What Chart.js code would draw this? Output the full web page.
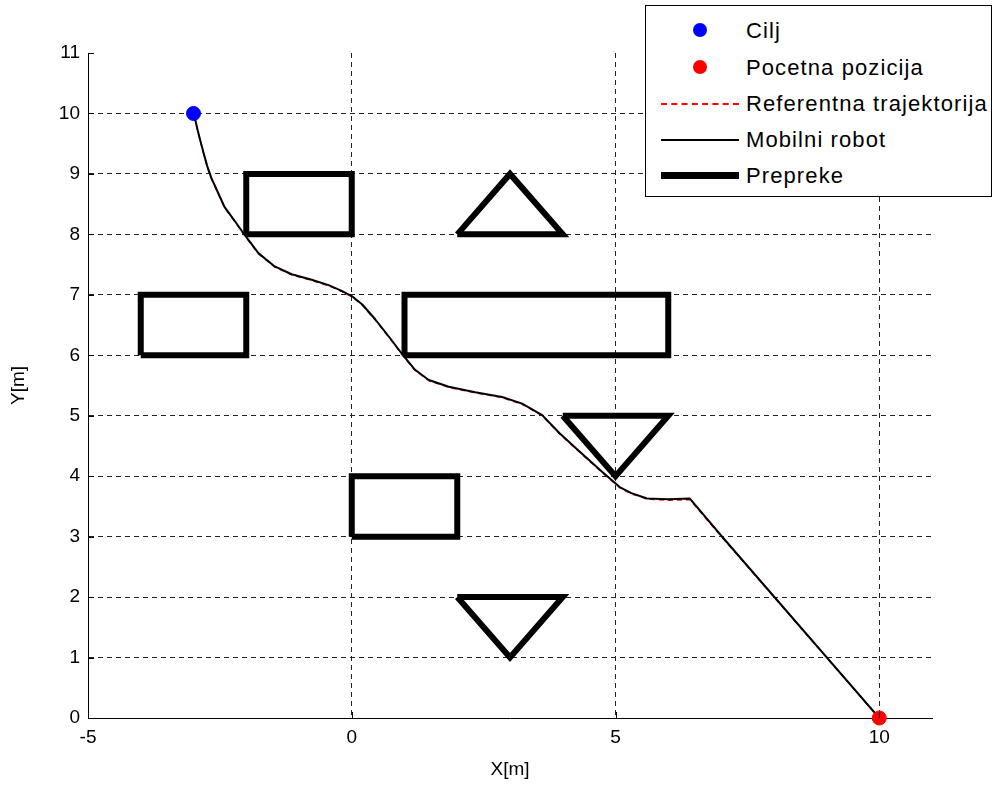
<!DOCTYPE html>
<html>
<head>
<meta charset="utf-8">
<script src="https://cdn.jsdelivr.net/npm/chart.js@4"></script>
<style>
  body { margin: 0; background: #fff; }
  #wrap { position: relative; width: 995px; height: 793px; }
  #legend {
    position: absolute; left: 645px; top: 5px; width: 347px; height: 192px;
    border: 1px solid #000; background: #fff; box-sizing: border-box;
    font-family: "Liberation Sans", Arial, sans-serif; font-size: 22px; letter-spacing: 1.1px;
  }
  .row { position: absolute; left: 0; height: 36px; width: 100%; }
  .row span { position: absolute; left: 100px; top: 5px; color: #000; }
  .sym { position: absolute; }
</style>
</head>
<body>
<div id="wrap">
  <canvas id="chart" width="995" height="793"></canvas>
  <div id="legend">
    <div class="row" style="top:7px"><div class="sym" style="left:47px;top:10px;width:14px;height:14px;border-radius:50%;background:#0000ff"></div><span>Cilj</span></div>
    <div class="row" style="top:44px"><div class="sym" style="left:47px;top:10px;width:14px;height:14px;border-radius:50%;background:#ff0000"></div><span>Pocetna pozicija</span></div>
    <div class="row" style="top:80px"><div class="sym" style="left:15px;top:17px;width:78px;height:0;border-top:2px dashed #ff0000"></div><span>Referentna trajektorija</span></div>
    <div class="row" style="top:116px"><div class="sym" style="left:15px;top:17px;width:78px;height:2px;background:#000"></div><span>Mobilni robot</span></div>
    <div class="row" style="top:152px"><div class="sym" style="left:15px;top:14px;width:78px;height:7px;background:#000"></div><span>Prepreke</span></div>
  </div>
</div>
<script>
// goal / start
const goal = { x: -3, y: 10 };
const start = { x: 10, y: 0 };

// obstacles (closed polygons)
const rect1X = [-2, 0, 0, -2, -2];
const rect1Y = [8, 8, 9, 9, 8];
const rect2X = [-4, -2, -2, -4, -4];
const rect2Y = [6, 6, 7, 7, 6];
const rect3X = [1, 6, 6, 1, 1];
const rect3Y = [6, 6, 7, 7, 6];
const rect4X = [0, 2, 2, 0, 0];
const rect4Y = [3, 3, 4, 4, 3];
const tri1X = [2, 4, 3, 2];
const tri1Y = [8, 8, 9, 8];
const tri2X = [4, 6, 5, 4];
const tri2Y = [5, 5, 4, 5];
const tri3X = [2, 4, 3, 2];
const tri3Y = [2, 2, 1, 2];

// mobile robot path (start -> goal)
const robotX = [10, 7.03, 6.41, 6.0, 5.6, 5.3, 5.08, 4.75, 4.24, 3.94, 3.61, 3.23, 2.85, 2.34, 1.84, 1.46, 1.2, 0.99, 0.72, 0.44, 0.2, 0.0, -0.2, -0.44, -0.76, -1.14, -1.46, -1.77, -2.03, -2.2, -2.41, -2.53, -2.66, -2.74, -2.81, -2.87, -2.92, -2.96, -3];
const robotY = [0, 2.99, 3.63, 3.62, 3.63, 3.72, 3.82, 4.07, 4.47, 4.71, 5.01, 5.2, 5.31, 5.39, 5.48, 5.59, 5.76, 5.98, 6.29, 6.6, 6.84, 6.98, 7.07, 7.16, 7.25, 7.34, 7.47, 7.69, 7.99, 8.2, 8.45, 8.68, 8.93, 9.13, 9.35, 9.55, 9.72, 9.87, 10];

// reference trajectory
const refX = [10, 7.03, 6.41, 6.0, 5.6, 5.3, 5.08, 4.75, 4.24, 3.94, 3.61, 3.23, 2.85, 2.34, 1.84, 1.46, 1.2, 0.99, 0.72, 0.44, 0.2, 0.0, -0.2, -0.44, -0.76, -1.14, -1.46, -1.77, -2.03, -2.2, -2.41, -2.53, -2.66, -2.74, -2.81, -2.87, -2.92, -2.96, -3];
const refY = [0, 2.98, 3.61, 3.6, 3.62, 3.71, 3.81, 4.06, 4.46, 4.7, 5.0, 5.19, 5.3, 5.38, 5.47, 5.58, 5.75, 5.97, 6.28, 6.59, 6.83, 6.97, 7.06, 7.15, 7.24, 7.33, 7.46, 7.68, 7.98, 8.19, 8.44, 8.67, 8.92, 9.12, 9.34, 9.54, 9.71, 9.86, 10];

const xTicks = [-5, 0, 5, 10];
const yTicks = [0, 1, 2, 3, 4, 5, 6, 7, 8, 9, 10, 11];

const pts = (xs, ys) => xs.map((x, i) => ({ x: x, y: ys[i] }));

const obstacles = [[rect1X, rect1Y], [rect2X, rect2Y], [rect3X, rect3Y], [rect4X, rect4Y],
  [tri1X, tri1Y], [tri2X, tri2Y], [tri3X, tri3Y]].map(o => ({
  data: pts(o[0], o[1]),
  showLine: true,
  borderColor: '#000',
  borderWidth: 6,
  pointRadius: 0,
  borderJoinStyle: 'miter'
}));

const font = { family: '"Liberation Sans", Arial, sans-serif', size: 19 };

// small inward tick marks like matlab
const innerTicks = {
  id: 'innerTicks',
  afterDraw(chart) {
    const ctx = chart.ctx, a = chart.chartArea;
    const xs = chart.scales.x, ys = chart.scales.y;
    ctx.save();
    ctx.strokeStyle = '#000';
    ctx.lineWidth = 1;
    ctx.beginPath();
    xTicks.forEach(v => {
      const p = Math.round(xs.getPixelForValue(v)) + 0.5;
      ctx.moveTo(p, a.bottom); ctx.lineTo(p, a.bottom - 6);
    });
    yTicks.forEach(v => {
      const p = Math.round(ys.getPixelForValue(v)) + 0.5;
      ctx.moveTo(a.left, p); ctx.lineTo(a.left + 6, p);
    });
    ctx.stroke();
    ctx.restore();
  }
};

new Chart(document.getElementById('chart'), {
  type: 'scatter',
  data: {
    datasets: [
      { data: [goal], pointRadius: 7, pointBackgroundColor: '#0000ff', pointBorderColor: '#0000ff', clip: false },
      { data: [start], pointRadius: 7, pointBackgroundColor: '#ff0000', pointBorderColor: '#ff0000', clip: false },
      { data: pts(robotX, robotY), showLine: true, borderColor: '#000', borderWidth: 2, pointRadius: 0, borderJoinStyle: 'round' },
      { data: pts(refX, refY), showLine: true, borderColor: '#ff0000', borderWidth: 1.5, borderDash: [5, 4], pointRadius: 0 },
      ...obstacles
    ]
  },
  options: {
    responsive: false,
    animation: false,
    layout: { padding: { top: 53, right: 63, left: 0, bottom: 0 } },
    plugins: { legend: { display: false }, tooltip: { enabled: false } },
    scales: {
      x: {
        type: 'linear',
        min: -5,
        max: 11,
        afterFit: s => { s.height = 75; },
        afterBuildTicks: s => { s.ticks = xTicks.map(v => ({ value: v })); },
        ticks: { color: '#000', font: font, padding: 8, maxRotation: 0 },
        grid: {
          drawTicks: false,
          color: ctx => (ctx.tick && ctx.tick.value === -5) ? 'rgba(0,0,0,0)' : '#222',
          lineWidth: 1
        },
        border: { display: true, color: '#000', width: 1, dash: [5, 4] },
        title: { display: true, text: 'X[m]', color: '#000', font: font, padding: { bottom: 12 } }
      },
      y: {
        type: 'linear',
        min: 0,
        max: 11,
        afterFit: s => { s.width = 88; },
        afterBuildTicks: s => { s.ticks = yTicks.map(v => ({ value: v })); },
        ticks: { color: '#000', font: font, padding: 8 },
        grid: {
          drawTicks: false,
          color: ctx => (ctx.tick && (ctx.tick.value === 0 || ctx.tick.value === 11)) ? 'rgba(0,0,0,0)' : '#222',
          lineWidth: 1
        },
        border: { display: true, color: '#000', width: 1, dash: [5, 4] },
        title: { display: true, text: 'Y[m]', color: '#000', font: font, padding: { top: 7 } }
      }
    }
  },
  plugins: [innerTicks]
});
</script>
</body>
</html>
